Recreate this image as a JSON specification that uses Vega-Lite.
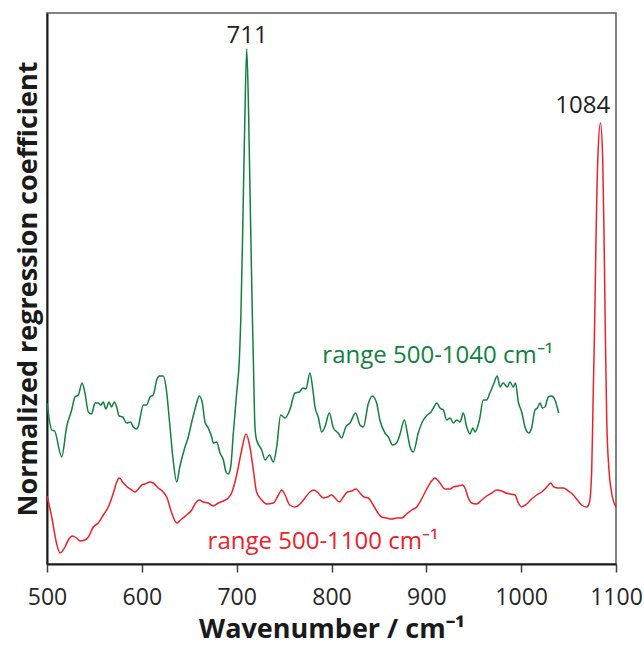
{
  "$schema": "https://vega.github.io/schema/vega-lite/v6.json",
  "width": 569,
  "height": 551,
  "autosize": "none",
  "padding": {"left": 47, "top": 13, "right": 28, "bottom": 82},
  "config": {
    "font": "Open Sans",
    "view": {"stroke": "#595959", "strokeWidth": 1.5}
  },
  "datasets": {
    "green": [
      {"wn":500,"v":161},{"wn":505,"v":134},{"wn":508,"v":133},{"wn":515.5,"v":107},{"wn":520.7,"v":137},{"wn":526,"v":154},{"wn":529.5,"v":167},{"wn":533,"v":169},{"wn":537,"v":181},{"wn":540,"v":171},{"wn":543.6,"v":152},{"wn":547,"v":150},{"wn":550.6,"v":161},{"wn":554,"v":161},{"wn":556.6,"v":159},{"wn":559.4,"v":162},{"wn":562,"v":155},{"wn":565.4,"v":162},{"wn":568,"v":157},{"wn":571,"v":162},{"wn":573.5,"v":157},{"wn":576,"v":148},{"wn":579.8,"v":147},{"wn":584,"v":141},{"wn":588,"v":142},{"wn":591,"v":137},{"wn":594.6,"v":135},{"wn":596,"v":137},{"wn":601.6,"v":159},{"wn":605,"v":159},{"wn":608.6,"v":167},{"wn":612,"v":169},{"wn":615.7,"v":184},{"wn":618.4,"v":188},{"wn":622.6,"v":188},{"wn":625.5,"v":177},{"wn":629.7,"v":137},{"wn":633,"v":104},{"wn":636.8,"v":82},{"wn":640,"v":97},{"wn":645.5,"v":117},{"wn":649,"v":127},{"wn":652.6,"v":142},{"wn":655,"v":151},{"wn":657.8,"v":161},{"wn":660.6,"v":168},{"wn":663.8,"v":161},{"wn":666.6,"v":142},{"wn":670,"v":136},{"wn":673.7,"v":127},{"wn":675.4,"v":121},{"wn":679,"v":122},{"wn":682.4,"v":111},{"wn":686,"v":104},{"wn":688.8,"v":92},{"wn":691,"v":90},{"wn":693.7,"v":97},{"wn":696.5,"v":131},{"wn":700,"v":171},{"wn":702.8,"v":204},{"wn":704.5,"v":250},{"wn":706.5,"v":340},{"wn":708.5,"v":440},{"wn":710.6,"v":515},{"wn":712.5,"v":455},{"wn":714.5,"v":350},{"wn":716.5,"v":250},{"wn":717.6,"v":204},{"wn":719.3,"v":137},{"wn":721,"v":124},{"wn":726.4,"v":114},{"wn":730,"v":104},{"wn":734.5,"v":109},{"wn":738.7,"v":102},{"wn":742.2,"v":117},{"wn":746.4,"v":149},{"wn":751,"v":146},{"wn":756,"v":154},{"wn":761.5,"v":171},{"wn":766,"v":172},{"wn":770,"v":176},{"wn":773,"v":175},{"wn":777.3,"v":191},{"wn":780,"v":177},{"wn":782.6,"v":157},{"wn":786,"v":147},{"wn":789.7,"v":132},{"wn":793,"v":137},{"wn":797.7,"v":151},{"wn":802,"v":136},{"wn":807,"v":131},{"wn":810.7,"v":126},{"wn":815,"v":137},{"wn":819.5,"v":141},{"wn":825.5,"v":151},{"wn":830,"v":139},{"wn":833.5,"v":137},{"wn":839,"v":161},{"wn":843,"v":168},{"wn":847.6,"v":161},{"wn":851,"v":144},{"wn":856.4,"v":131},{"wn":860,"v":127},{"wn":864.4,"v":119},{"wn":868.6,"v":121},{"wn":872,"v":129},{"wn":876.8,"v":144},{"wn":880.3,"v":129},{"wn":882.8,"v":117},{"wn":886.3,"v":112},{"wn":891.5,"v":131},{"wn":896.8,"v":144},{"wn":901,"v":149},{"wn":905,"v":152},{"wn":908,"v":157},{"wn":911,"v":161},{"wn":914.4,"v":156},{"wn":918,"v":154},{"wn":921.5,"v":144},{"wn":925,"v":146},{"wn":928.5,"v":141},{"wn":932,"v":144},{"wn":935.5,"v":142},{"wn":939,"v":151},{"wn":942.6,"v":137},{"wn":946,"v":130},{"wn":949,"v":136},{"wn":951.3,"v":132},{"wn":956,"v":144},{"wn":960,"v":164},{"wn":963.6,"v":164},{"wn":967,"v":171},{"wn":970.6,"v":179},{"wn":974.8,"v":188},{"wn":977.7,"v":177},{"wn":981,"v":181},{"wn":985.4,"v":177},{"wn":988.2,"v":182},{"wn":991.7,"v":177},{"wn":994,"v":181},{"wn":997,"v":162},{"wn":1000.6,"v":152},{"wn":1004,"v":137},{"wn":1008,"v":131},{"wn":1011,"v":136},{"wn":1014.6,"v":154},{"wn":1017,"v":156},{"wn":1020,"v":161},{"wn":1022.3,"v":156},{"wn":1025,"v":157},{"wn":1028.6,"v":167},{"wn":1032,"v":168},{"wn":1035.7,"v":164},{"wn":1039.5,"v":151}
    ],
    "red": [
      {"wn":500,"v":68},{"wn":505,"v":47},{"wn":510,"v":21},{"wn":513.7,"v":11},{"wn":519,"v":17},{"wn":522.5,"v":24},{"wn":527,"v":28},{"wn":531,"v":26},{"wn":534.8,"v":23},{"wn":540,"v":24},{"wn":543.6,"v":27},{"wn":548.8,"v":37},{"wn":554,"v":41},{"wn":559.4,"v":49},{"wn":564.6,"v":57},{"wn":570,"v":71},{"wn":573.5,"v":82},{"wn":576.2,"v":86},{"wn":580.5,"v":81},{"wn":584.7,"v":77},{"wn":589.3,"v":74},{"wn":592.8,"v":72},{"wn":596.3,"v":75},{"wn":600,"v":79},{"wn":603.3,"v":80},{"wn":608.6,"v":82},{"wn":612,"v":81},{"wn":617.4,"v":76},{"wn":622.6,"v":72},{"wn":626.2,"v":67},{"wn":631.5,"v":51},{"wn":636.8,"v":41},{"wn":642,"v":45},{"wn":647.3,"v":49},{"wn":652.6,"v":54},{"wn":656,"v":60},{"wn":660.6,"v":64},{"wn":664.8,"v":62},{"wn":670,"v":61},{"wn":675.4,"v":58},{"wn":680.6,"v":61},{"wn":686,"v":63},{"wn":691,"v":66},{"wn":694.7,"v":71},{"wn":700,"v":89},{"wn":705.3,"v":114},{"wn":709.8,"v":130},{"wn":714,"v":117},{"wn":717.6,"v":94},{"wn":721,"v":72},{"wn":726.4,"v":64},{"wn":731.6,"v":60},{"wn":738.7,"v":61},{"wn":744,"v":69},{"wn":747.5,"v":74},{"wn":751,"v":69},{"wn":756,"v":59},{"wn":761.5,"v":57},{"wn":766.8,"v":60},{"wn":772,"v":66},{"wn":777.3,"v":72},{"wn":781.6,"v":74},{"wn":786,"v":71},{"wn":791.4,"v":66},{"wn":795.6,"v":67},{"wn":800.2,"v":69},{"wn":803.7,"v":66},{"wn":808.3,"v":62},{"wn":812.5,"v":67},{"wn":816.7,"v":72},{"wn":821.3,"v":73},{"wn":825.8,"v":75},{"wn":830,"v":71},{"wn":834.3,"v":67},{"wn":838.8,"v":66},{"wn":844,"v":59},{"wn":848.3,"v":52},{"wn":853,"v":47},{"wn":858.2,"v":46},{"wn":863.5,"v":45},{"wn":868.7,"v":46},{"wn":874,"v":46},{"wn":879.3,"v":50},{"wn":884.6,"v":54},{"wn":889.8,"v":57},{"wn":895,"v":65},{"wn":900.4,"v":75},{"wn":905.6,"v":83},{"wn":909,"v":86},{"wn":914.4,"v":81},{"wn":919.7,"v":75},{"wn":925,"v":75},{"wn":928.5,"v":77},{"wn":933.7,"v":78},{"wn":938.3,"v":79},{"wn":940.8,"v":76},{"wn":944.3,"v":66},{"wn":947.8,"v":61},{"wn":953,"v":60},{"wn":958.4,"v":64},{"wn":963.6,"v":68},{"wn":969,"v":71},{"wn":974.2,"v":74},{"wn":979.5,"v":73},{"wn":984,"v":71},{"wn":988.2,"v":70},{"wn":993.5,"v":69},{"wn":997,"v":61},{"wn":1000.6,"v":57},{"wn":1005.8,"v":60},{"wn":1011,"v":65},{"wn":1016.3,"v":69},{"wn":1021.6,"v":72},{"wn":1027,"v":77},{"wn":1031,"v":81},{"wn":1034.6,"v":77},{"wn":1039.2,"v":76},{"wn":1044.5,"v":76},{"wn":1049.7,"v":73},{"wn":1055,"v":69},{"wn":1059.2,"v":64},{"wn":1063.8,"v":59},{"wn":1069,"v":57},{"wn":1071.9,"v":61},{"wn":1074.4,"v":94},{"wn":1076,"v":171},{"wn":1077.5,"v":241},{"wn":1079,"v":330},{"wn":1081,"v":410},{"wn":1083.6,"v":441},{"wn":1086,"v":405},{"wn":1087.5,"v":320},{"wn":1088.7,"v":235},{"wn":1090.2,"v":145},{"wn":1092.6,"v":94},{"wn":1095.4,"v":71},{"wn":1100,"v":57}
    ],
    "labels": [
      {"wn":711,"v":521,"text":"711","kind":"peak"},
      {"wn":1065,"v":451,"text":"1084","kind":"peak"},
      {"wn":912,"v":201,"text":"range 500-1040 cm⁻¹","kind":"green"},
      {"wn":791,"v":15,"text":"range 500-1100 cm⁻¹","kind":"red"}
    ]
  },
  "encoding": {
    "x": {"field": "wn", "type": "quantitative",
      "scale": {"domain": [500, 1100], "nice": false, "zero": false},
      "axis": {"values": [500,600,700,800,900,1000,1100], "format": "d", "grid": false,
        "labelFontSize": 23, "labelColor": "#262626", "labelPadding": 14, "labelFlush": false, "labelOverlap": false,
        "tickSize": 8, "tickColor": "#404040", "tickWidth": 1.5,
        "domainColor": "#1a1a1a", "domainWidth": 2,
        "title": "Wavenumber / cm⁻¹", "titleFontSize": 27, "titleFontWeight": "bold", "titleColor": "#1a1a1a", "titlePadding": 7}},
    "y": {"field": "v", "type": "quantitative",
      "scale": {"domain": [0, 551], "nice": false},
      "axis": {"labels": false, "ticks": false, "grid": false,
        "domainColor": "#1a1a1a", "domainWidth": 2,
        "title": "Normalized regression coefficient", "titleFontSize": 27, "titleFontWeight": "bold", "titleColor": "#1a1a1a", "titlePadding": 5}}
  },
  "layer": [
    {"data": {"name": "green"}, "mark": {"type": "line", "interpolate": "monotone", "color": "#12803f", "strokeWidth": 1.5}},
    {"data": {"name": "red"}, "mark": {"type": "line", "interpolate": "monotone", "color": "#f0202a", "strokeWidth": 1.5}},
    {"data": {"name": "labels"}, "mark": {"type": "text", "fontSize": 24, "align": "center", "baseline": "alphabetic"},
      "encoding": {"text": {"field": "text"},
        "color": {"field": "kind", "type": "nominal", "scale": {"domain": ["peak", "green", "red"], "range": ["#222222", "#12803f", "#f0202a"]}, "legend": null}}}
  ]
}
